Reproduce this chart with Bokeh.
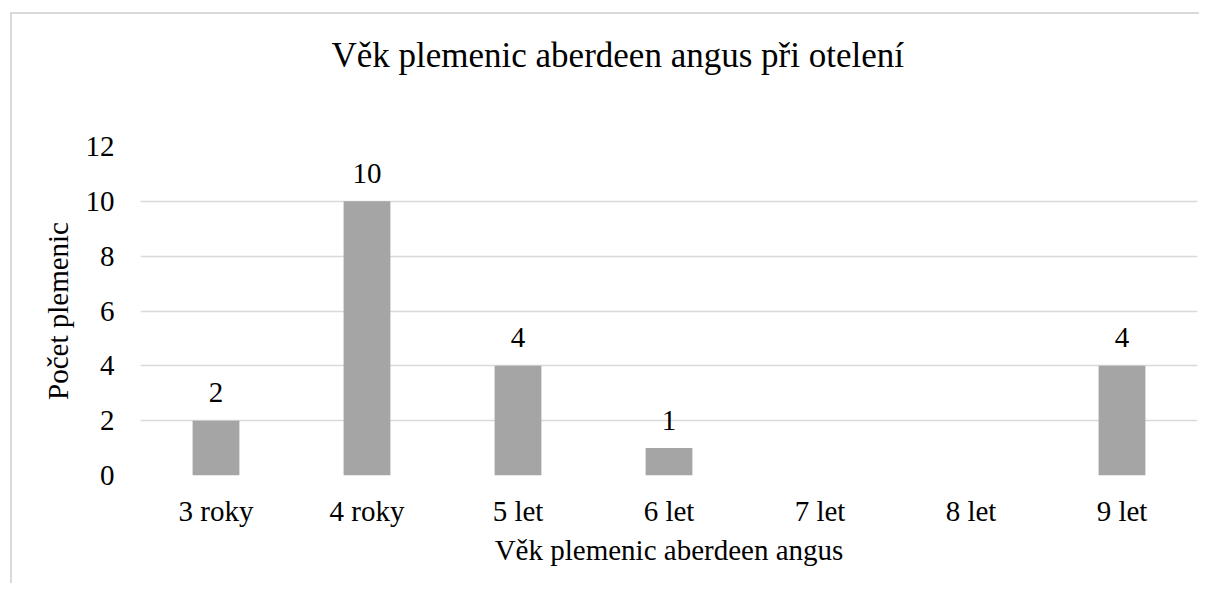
from bokeh.plotting import figure
from bokeh.models import FactorRange, Range1d, FixedTicker, ColumnDataSource, Title
from bokeh.embed import file_html
from bokeh.resources import INLINE
from bokeh.core.properties import value

categories = ["3 roky", "4 roky", "5 let", "6 let", "7 let", "8 let", "9 let"]
counts = [2, 10, 4, 1, 0, 0, 4]
labels = ["2", "10", "4", "1", "", "", "4"]
y_ticks = [0, 2, 4, 6, 8, 10, 12]
title_text = "Věk plemenic aberdeen angus při otelení"

FONT = "'Liberation Serif', 'Times New Roman', serif"

src = ColumnDataSource(dict(cat=categories, val=counts, lab=labels))

p = figure(width=1189, height=571, x_range=FactorRange(*categories, range_padding=0),
           y_range=Range1d(0, 12), output_backend="svg", toolbar_location=None,
           title=None,
           min_border_left=128, min_border_right=4, min_border_bottom=110, min_border_top=132)
p.margin = (12, 0, 0, 10)
p.styles = {"border-left": "2px solid #d9d9d9", "border-top": "2px solid #d9d9d9"}

p.vbar(x="cat", top="val", width=0.31, fill_color="#A5A5A5", line_color=None, source=src)
p.text(x="cat", y="val", text="lab", source=src, text_align="center",
       text_baseline="alphabetic", y_offset=-28, text_font=value(FONT),
       text_font_size="29px", text_color="#000000")

spacer = Title(text=" ", text_font_size="63px", standoff=0)
main_title = Title(text=title_text, align="left", offset=191, standoff=0,
                   text_font=FONT, text_font_size="35px", text_font_style="normal",
                   text_color="#000000")
p.add_layout(spacer, "above")
p.add_layout(main_title, "above")

p.outline_line_color = None
p.xgrid.grid_line_color = None
p.ygrid.grid_line_color = "#d9d9d9"
p.ygrid.grid_line_width = 1.5
p.yaxis.ticker = FixedTicker(ticks=y_ticks)

for ax in (p.xaxis, p.yaxis):
    ax.axis_line_color = None
    ax.major_tick_line_color = None
    ax.minor_tick_line_color = None
    ax.major_tick_out = 0
    ax.major_tick_in = 0
    ax.major_label_text_font = FONT
    ax.major_label_text_font_size = "29px"
    ax.major_label_text_color = "#000000"
    ax.axis_label_text_font = FONT
    ax.axis_label_text_font_size = "29px"
    ax.axis_label_text_font_style = "normal"
    ax.axis_label_text_color = "#000000"

p.yaxis.axis_label = "Počet plemenic"
p.xaxis.axis_label = "Věk plemenic aberdeen angus"
p.yaxis.major_label_standoff = 26
p.yaxis.axis_label_standoff = 9
p.xaxis.major_label_standoff = 19
p.xaxis.axis_label_standoff = 4

open("out.html", "w").write(file_html(p, INLINE))
